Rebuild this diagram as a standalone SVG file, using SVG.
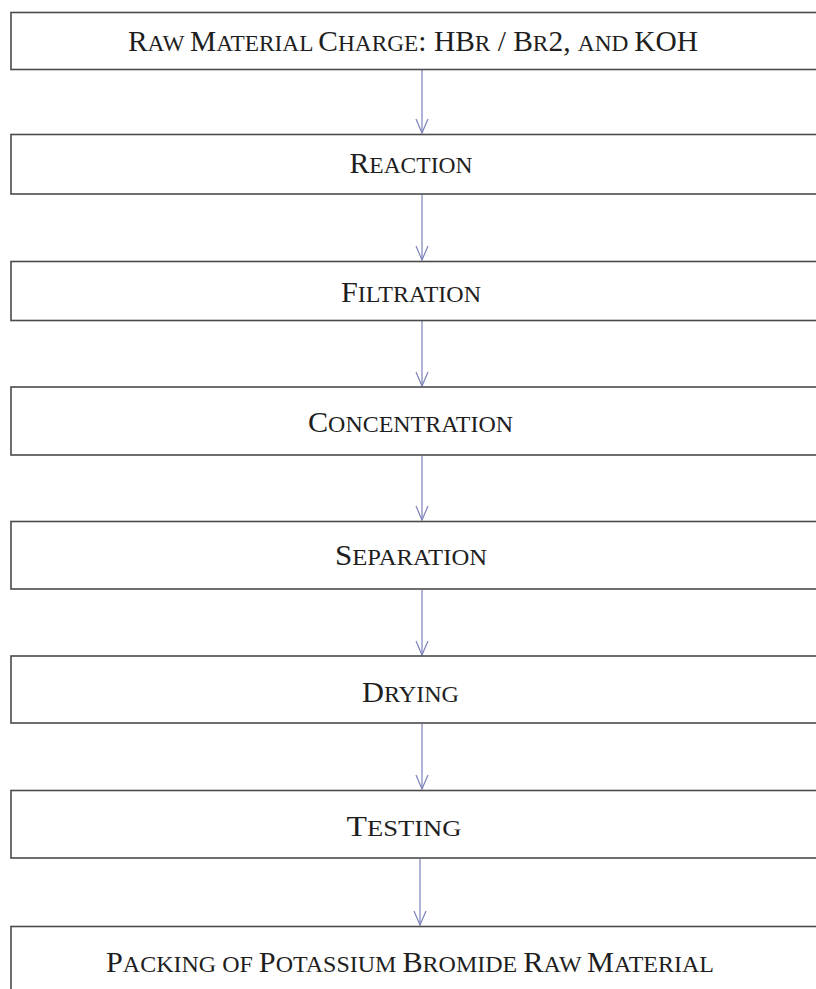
<svg xmlns="http://www.w3.org/2000/svg" width="816" height="989" viewBox="0 0 816 989">
<style>
.box{fill:#fff;stroke:#4a4a4a;stroke-width:1.6}
.lbl{font-family:"Liberation Serif","Times New Roman",serif;fill:#1e1e1e;text-anchor:middle}
.c{font-size:29px}
.s{font-size:23px}
.conn{stroke:#7c82ba;stroke-width:1.2;fill:none}
</style>
<defs>
<marker id="ah" markerUnits="userSpaceOnUse" markerWidth="18" markerHeight="16" viewBox="0 0 18 16" refX="16" refY="8" orient="auto">
<path d="M2,2 L16,8 L2,14" fill="none" stroke="#7c82ba" stroke-width="1.2"/>
</marker>
</defs>
<rect width="816" height="989" fill="#fff"/>
<g id="connectors">
<line class="conn" x1="422" y1="70" x2="422" y2="133" marker-end="url(#ah)"/>
<line class="conn" x1="422" y1="195" x2="422" y2="260" marker-end="url(#ah)"/>
<line class="conn" x1="422" y1="321" x2="422" y2="386" marker-end="url(#ah)"/>
<line class="conn" x1="422" y1="456" x2="422" y2="520" marker-end="url(#ah)"/>
<line class="conn" x1="422" y1="590" x2="422" y2="655" marker-end="url(#ah)"/>
<line class="conn" x1="422" y1="724" x2="422" y2="789" marker-end="url(#ah)"/>
<line class="conn" x1="420" y1="859" x2="420" y2="925" marker-end="url(#ah)"/>
</g>
<g id="n1">
<rect class="box" x="11" y="12.5" width="820" height="57"/>
<text class="lbl" x="413" y="51" textLength="570" lengthAdjust="spacingAndGlyphs"><tspan class="c">R</tspan><tspan class="s">AW </tspan><tspan class="c">M</tspan><tspan class="s">ATERIAL </tspan><tspan class="c">C</tspan><tspan class="s">HARGE</tspan><tspan class="c">: HB</tspan><tspan class="s">R</tspan><tspan class="c"> / B</tspan><tspan class="s">R</tspan><tspan class="c">2, </tspan><tspan class="s">AND </tspan><tspan class="c">KOH</tspan></text>
</g>
<g id="n2">
<rect class="box" x="11" y="134.5" width="820" height="59.5"/>
<text class="lbl" x="411" y="173" textLength="123" lengthAdjust="spacingAndGlyphs"><tspan class="c">R</tspan><tspan class="s">EACTION</tspan></text>
</g>
<g id="n3">
<rect class="box" x="11" y="261.5" width="820" height="59"/>
<text class="lbl" x="411" y="301.5" textLength="140" lengthAdjust="spacingAndGlyphs"><tspan class="c">F</tspan><tspan class="s">ILTRATION</tspan></text>
</g>
<g id="n4">
<rect class="box" x="11" y="387" width="820" height="68"/>
<text class="lbl" x="410.5" y="431.5" textLength="205" lengthAdjust="spacingAndGlyphs"><tspan class="c">C</tspan><tspan class="s">ONCENTRATION</tspan></text>
</g>
<g id="n5">
<rect class="box" x="11" y="521.5" width="820" height="67.5"/>
<text class="lbl" x="411" y="565" textLength="152" lengthAdjust="spacingAndGlyphs"><tspan class="c">S</tspan><tspan class="s">EPARATION</tspan></text>
</g>
<g id="n6">
<rect class="box" x="11" y="656" width="820" height="67"/>
<text class="lbl" x="410.5" y="701.5" textLength="97" lengthAdjust="spacingAndGlyphs"><tspan class="c">D</tspan><tspan class="s">RYING</tspan></text>
</g>
<g id="n7">
<rect class="box" x="11" y="790.5" width="820" height="67.5"/>
<text class="lbl" x="404" y="836" textLength="115" lengthAdjust="spacingAndGlyphs"><tspan class="c">T</tspan><tspan class="s">ESTING</tspan></text>
</g>
<g id="n8">
<rect class="box" x="11" y="926.5" width="820" height="80"/>
<text class="lbl" x="410" y="971.5" textLength="608" lengthAdjust="spacingAndGlyphs"><tspan class="c">P</tspan><tspan class="s">ACKING OF </tspan><tspan class="c">P</tspan><tspan class="s">OTASSIUM </tspan><tspan class="c">B</tspan><tspan class="s">ROMIDE </tspan><tspan class="c">R</tspan><tspan class="s">AW </tspan><tspan class="c">M</tspan><tspan class="s">ATERIAL</tspan></text>
</g>
</svg>
